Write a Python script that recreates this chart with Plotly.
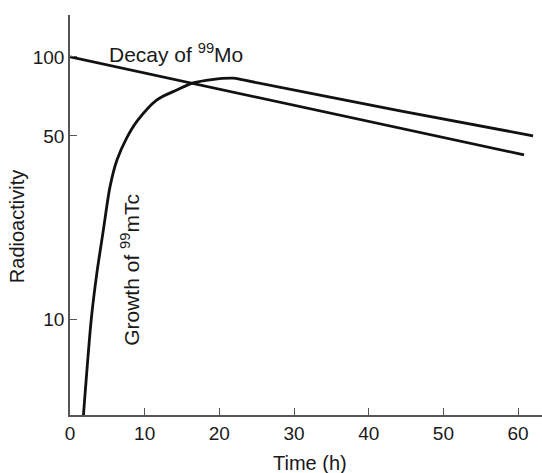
import plotly.graph_objects as go
import numpy as np

# Data
mo_time = [0, 60.8]
mo_activity = [100, 42.3]

tc_time = [1.8, 2.85, 3.6, 4.46, 5.36, 6.3, 7.5, 9.0, 11.6, 14.3, 16.5, 19.0, 21.8, 23.2, 44.2, 62.0]
tc_activity = [4.3, 10, 15.0, 21.8, 32, 40.5, 48.5, 57, 68.5, 74.8, 79.6, 82, 83, 81.7, 62.2, 50]

x_ticks = [0, 10, 20, 30, 40, 50, 60]
y_ticks = [10, 50, 100]

FONT = "Liberation Sans, Arial, Helvetica, sans-serif"
AX = "#555555"
TXT = "#1a1a1a"

fig = go.Figure()
fig.add_trace(go.Scatter(x=mo_time, y=mo_activity, mode="lines",
                         line=dict(color="#111111", width=2.8), showlegend=False))
fig.add_trace(go.Scatter(x=tc_time, y=tc_activity, mode="lines",
                         line=dict(color="#111111", width=2.8, shape="spline", smoothing=0.8),
                         showlegend=False))

fig.update_layout(
    width=542, height=473,
    margin=dict(l=70, r=0, t=15, b=58),
    paper_bgcolor="white", plot_bgcolor="white",
    font=dict(family=FONT, size=18, color=TXT),
    xaxis=dict(range=[0, 63.2], tickvals=x_ticks, showgrid=False, zeroline=False,
               showline=True, linecolor=AX, linewidth=1.5,
               ticks="inside", ticklen=7, tickcolor=AX, tickwidth=1.2,
               tickfont=dict(size=19, color=TXT)),
    yaxis=dict(type="log", range=[0.634, 2.16], tickvals=y_ticks,
               ticktext=[str(v) for v in y_ticks], showgrid=False, zeroline=False,
               showline=True, linecolor=AX, linewidth=1.5,
               ticks="inside", ticklen=7, tickcolor=AX, tickwidth=1.2,
               tickfont=dict(size=19, color=TXT)),
    annotations=[
        dict(text="Decay of <sup>99</sup>Mo", x=5.0, y=np.log10(103.5), xref="x", yref="y",
             xanchor="left", yanchor="middle", showarrow=False,
             font=dict(size=21, color=TXT)),
        dict(text="Growth of <sup>99</sup>mTc", x=8.0, y=1.187, xref="x", yref="y",
             xanchor="center", yanchor="middle", textangle=-90, showarrow=False,
             font=dict(size=21, color=TXT)),
        dict(text="Radioactivity", x=-0.112, y=0.47, xref="paper", yref="paper",
             xanchor="center", yanchor="middle", textangle=-90, showarrow=False,
             font=dict(size=20, color=TXT)),
        dict(text="Time (h)", x=0.508, y=-0.12, xref="paper", yref="paper",
             xanchor="center", yanchor="middle", showarrow=False,
             font=dict(size=20, color=TXT)),
    ],
)

fig.write_html("out.html", config={"displayModeBar": False},
               post_script="document.body.style.margin='0';")
